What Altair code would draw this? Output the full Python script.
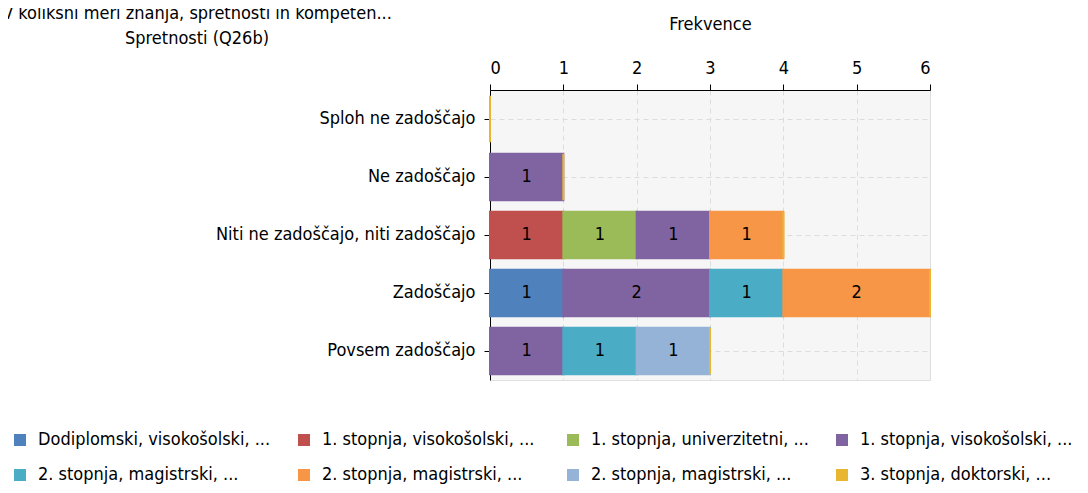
import json
import altair as alt
import pandas as pd

categories = [
    "Sploh ne zadoščajo",
    "Ne zadoščajo",
    "Niti ne zadoščajo, niti zadoščajo",
    "Zadoščajo",
    "Povsem zadoščajo",
]
series_keys = ["s1", "s2", "s3", "s4", "s5", "s6", "s7", "s8"]
series_labels = [
    "Dodiplomski, visokošolski, ...",
    "1. stopnja, visokošolski,  ...",
    "1. stopnja, univerzitetni, ...",
    "1. stopnja, visokošolski,  ...",
    "2. stopnja, magistrski, ...",
    "2. stopnja, magistrski, ...",
    "2. stopnja, magistrski, ...",
    "3. stopnja, doktorski, ...",
]
series_colors = ["#4f81bd", "#c0504d", "#9bbb59", "#8064a2",
                 "#4bacc6", "#f79646", "#95b3d7", "#e8b630"]

# counts per series, in category order
s1 = [0, 0, 0, 1, 0]
s2 = [0, 0, 1, 0, 0]
s3 = [0, 0, 1, 0, 0]
s4 = [0, 1, 1, 2, 1]
s5 = [0, 0, 0, 1, 1]
s6 = [0, 0, 1, 2, 0]
s7 = [0, 0, 0, 0, 1]
s8 = [0, 0, 0, 0, 0]
series_values = [s1, s2, s3, s4, s5, s6, s7, s8]

x_ticks = [0, 1, 2, 3, 4, 5, 6]

rows = []
for i, (k, vals) in enumerate(zip(series_keys, series_values)):
    for c, v in zip(categories, vals):
        rows.append({"category": c, "key": k, "order": i, "value": v})
df = pd.DataFrame(rows)

FONT = "DejaVu Sans Condensed, DejaVu Sans"
FS = 18
label_expr = f"{json.dumps(series_labels, ensure_ascii=False)}[indexof({json.dumps(series_keys)}, datum.value)]"

base = alt.Chart(df).transform_filter(
    "datum.value > 0 || datum.key == 's8'"
).transform_stack(
    stack="value", groupby=["category"], as_=["x0", "x1"],
    sort=[alt.SortField("order", order="ascending")],
)

y_enc = alt.Y(
    "category:N", sort=categories, title=None,
    scale=alt.Scale(paddingInner=0.2, paddingOuter=0.1),
    axis=alt.Axis(labelFontSize=FS, labelColor="#000000", labelPadding=9,
                  tickSize=6, tickColor="#000000", domainColor="#000000",
                  grid=True, gridDash=[5, 4], gridColor="#dddddd", labelLimit=400),
)

bars = base.mark_bar(strokeWidth=2).encode(
    x=alt.X("x0:Q", scale=alt.Scale(domain=[0, 6], nice=False),
            axis=alt.Axis(orient="top", title="Frekvence", values=x_ticks,
                          titleFontSize=FS, titleFontWeight="normal", titleColor="#000000",
                          titlePadding=26, labelFontSize=FS, labelColor="#000000",
                          labelPadding=7, tickSize=6, tickColor="#000000",
                          domainColor="#000000", grid=True, gridDash=[5, 4],
                          gridColor="#dddddd", format="d")),
    x2="x1:Q",
    y=y_enc,
    color=alt.Color("key:N", scale=alt.Scale(domain=series_keys, range=series_colors),
                    legend=alt.Legend(title=None, orient="none", legendX=-479, legendY=341,
                                      columns=4, direction="horizontal",
                                      symbolType="square", symbolSize=144,
                                      symbolStrokeWidth=0, labelFontSize=FS,
                                      labelColor="#000000", labelOffset=9,
                                      rowPadding=17, columnPadding=24,
                                      labelExpr=label_expr, labelLimit=400)),
    stroke=alt.Stroke("key:N", scale=alt.Scale(domain=series_keys, range=series_colors),
                      legend=None),
)

texts = base.transform_filter("datum.value > 0").transform_calculate(
    mid="(datum.x0 + datum.x1) / 2"
).mark_text(fontSize=FS, color="#000000", font=FONT).encode(
    x="mid:Q",
    y=alt.Y("category:N", sort=categories),
    text="value:Q",
)

chart = alt.layer(bars, texts).properties(
    width=440,
    height=290,
    title=alt.Title(
        ["V kolikšni meri znanja, spretnosti in kompeten...", "Spretnosti (Q26b)"],
        anchor="start", frame="group", align="center", dx=-293, dy=37,
        fontSize=FS, fontWeight="normal", color="#000000", lineHeight=25, font=FONT,
    ),
    autosize=alt.AutoSizeParams(type="none"),
    padding={"left": 482, "top": 82, "right": 150, "bottom": 110},
).configure(font=FONT).configure_view(fill="#f6f6f6", stroke="#e0e0e0")

chart.save("out.html", embed_options={"renderer": "svg", "actions": False})
